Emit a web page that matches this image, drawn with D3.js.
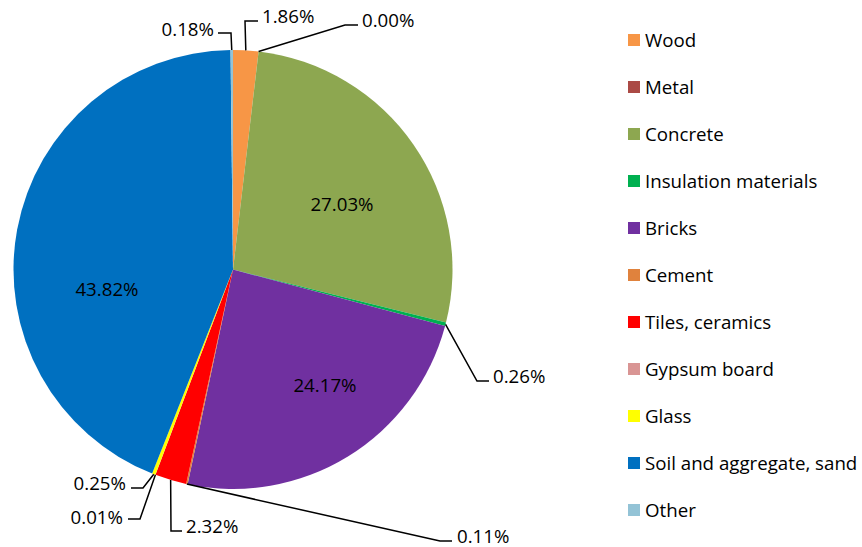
<!DOCTYPE html>
<html>
<head>
<meta charset="utf-8">
<script src="https://cdn.jsdelivr.net/npm/d3@7"></script>
<style>
  html, body { margin: 0; padding: 0; background: #fff; }
  svg { display: block; }
  text { font-family: "Open Sans", "Noto Sans", sans-serif; fill: #000; }
</style>
</head>
<body>
<svg id="chart" width="862" height="547"></svg>
<script>
// ---- data ----
const categories = ["Wood", "Metal", "Concrete", "Insulation materials", "Bricks", "Cement",
  "Tiles, ceramics", "Gypsum board", "Glass", "Soil and aggregate, sand", "Other"];
const shares = [1.86, 0.00, 27.03, 0.26, 24.17, 0.11, 2.32, 0.01, 0.25, 43.82, 0.18];
const labels = ["1.86%", "0.00%", "27.03%", "0.26%", "24.17%", "0.11%", "2.32%", "0.01%", "0.25%", "43.82%", "0.18%"];

// ---- styling / layout ----
const colors = ["#F79646", "#AB4A45", "#8DA750", "#00B050", "#7030A0", "#E0823D",
  "#FF0000", "#D99594", "#FFFF00", "#0070C0", "#93C3D6"];
// label layout: inside labels (tx,ty centre) or outside with elbow + text position
const labelLayout = [
  { elbow: [245, 21], end: [258, 21], text: [262, 16], anchor: "start" },
  { elbow: [345, 25], end: [358, 25], text: [362, 20], anchor: "start" },
  { inside: true, text: [342, 204] },
  { elbow: [477, 381], end: [489, 381], text: [493, 376], anchor: "start" },
  { inside: true, text: [325, 385] },
  { elbow: [440, 541], end: [452, 541], text: [457, 536], anchor: "start" },
  { elbow: [171, 531], end: [182, 531], text: [186, 526], anchor: "start" },
  { elbow: [140, 519], end: [128, 519], text: [123, 517], anchor: "end" },
  { elbow: [143, 488], end: [131, 488], text: [126, 483], anchor: "end" },
  { inside: true, text: [107, 289] },
  { elbow: [231, 33], end: [218, 33], text: [214, 29], anchor: "end" }
];

const cx = 233, cy = 269.5, r = 219.5;
const fontSize = 18.7;

const svg = d3.select("#chart");
const g = svg.append("g").attr("transform", `translate(${cx},${cy})`);

const pie = d3.pie().sort(null).value(d => d)(shares);
const arc = d3.arc().innerRadius(0).outerRadius(r);
const edge = d3.arc().innerRadius(r).outerRadius(r);

g.selectAll("path.slice")
  .data(pie)
  .join("path")
  .attr("class", "slice")
  .attr("d", arc)
  .attr("fill", (d, i) => colors[i]);

// leader lines
const lineGen = d3.line();
pie.forEach((d, i) => {
  const L = labelLayout[i];
  if (L.inside) return;
  const a = edge.centroid(d);
  const pts = [[a[0] + cx, a[1] + cy], L.elbow, L.end];
  svg.append("path")
    .attr("d", lineGen(pts))
    .attr("fill", "none")
    .attr("stroke", "#000")
    .attr("stroke-width", 1.5);
});

// labels
pie.forEach((d, i) => {
  const L = labelLayout[i];
  svg.append("text")
    .attr("x", L.text[0])
    .attr("y", L.text[1])
    .attr("dy", "0.35em")
    .attr("text-anchor", L.inside ? "middle" : L.anchor)
    .style("font-size", fontSize + "px")
    .text(labels[i]);
});

// legend
const legendY = d3.scalePoint().domain(categories).range([40, 510]);
const leg = svg.append("g");
leg.selectAll("rect")
  .data(categories)
  .join("rect")
  .attr("x", 628)
  .attr("y", d => legendY(d) - 6)
  .attr("width", 12)
  .attr("height", 12)
  .attr("fill", (d, i) => colors[i]);
leg.selectAll("text")
  .data(categories)
  .join("text")
  .attr("x", 645)
  .attr("y", d => legendY(d))
  .attr("dy", "0.35em")
  .style("font-size", fontSize + "px")
  .text(d => d);
</script>
</body>
</html>
